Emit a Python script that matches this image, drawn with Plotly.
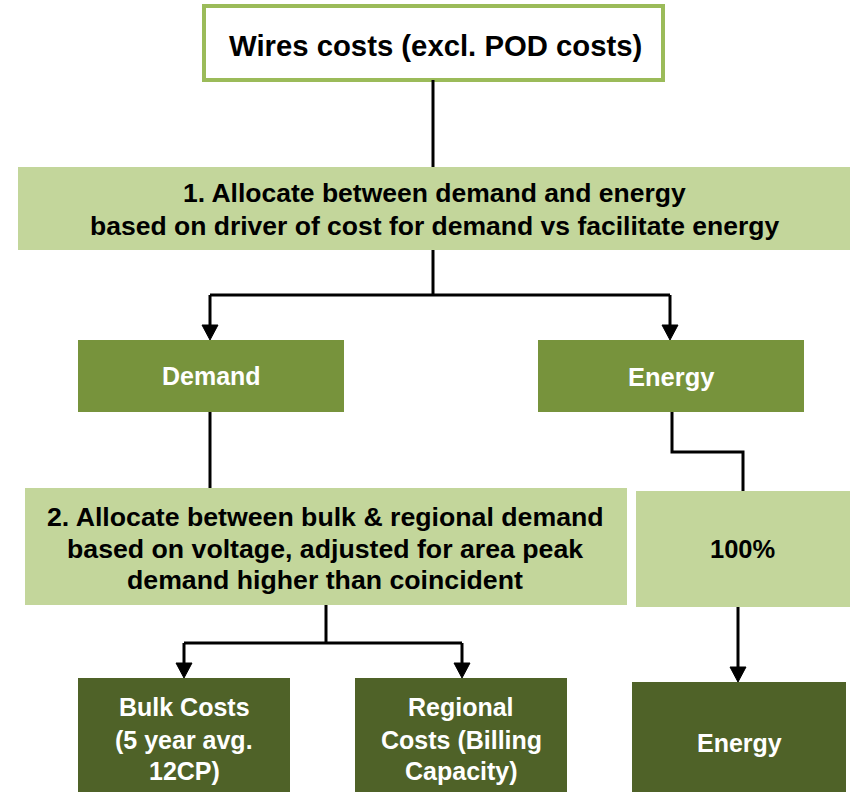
import plotly.graph_objects as go

# ---- content (text of each node, one list per line) ----
title_lines = ["Wires costs (excl. POD costs)"]
step1_lines = ["1. Allocate between demand and energy",
               "based on driver of cost for demand vs facilitate energy"]
demand_lines = ["Demand"]
energy_lines = ["Energy"]
step2_lines = ["2. Allocate between bulk & regional demand",
               "based on voltage, adjusted for area peak",
               "demand higher than coincident"]
share_lines = ["100%"]
bulk_lines = ["Bulk Costs", "(5 year avg.", "12CP)"]
regional_lines = ["Regional", "Costs (Billing", "Capacity)"]
energy_out_lines = ["Energy"]

# ---- styles ----
W, H = 855, 792
BORDER = "#9BBB59"
LIGHT = "#C3D69B"
MID = "#77933C"
DARK = "#4F6228"
FONT = "Liberation Sans, Arial, sans-serif"

# ---- layout geometry ----
boxes = {
    "title":   dict(rect=(204, 6, 663, 80), fill="white", line=BORDER, lw=4),
    "step1":   dict(rect=(18, 167, 850, 250), fill=LIGHT),
    "demand":  dict(rect=(78, 340, 344, 412), fill=MID),
    "energy":  dict(rect=(538, 340, 804, 412), fill=MID),
    "step2":   dict(rect=(25, 488, 627, 605), fill=LIGHT),
    "share":   dict(rect=(636, 491, 850, 607), fill=LIGHT),
    "bulk":    dict(rect=(78, 678, 290, 800), fill=DARK),
    "regional": dict(rect=(355, 678, 567, 800), fill=DARK),
    "energy_out": dict(rect=(632, 682, 846, 800), fill=DARK),
}

texts = [
    (title_lines, 435, [45], 29.3, "black"),
    (step1_lines, 434, [193, 226], 26.5, "black"),
    (demand_lines, 211, [376], 25, "white"),
    (energy_lines, 671, [377], 25.5, "white"),
    (step2_lines, 325, [517, 549, 580], 26.7, "black"),
    (share_lines, 742, [549], 25.5, "black"),
    (bulk_lines, 184, [707, 740, 771], 25, "white"),
    (regional_lines, 461, [707, 740, 771], 25, "white"),
    (energy_out_lines, 739, [743], 25, "white"),
]

plain_paths = [
    [(433, 80), (433, 167)],
    [(433, 250), (433, 295)],
    [(210, 295), (670, 295)],
    [(210, 412), (210, 488)],
    [(672, 412), (672, 452), (743, 452), (743, 491)],
    [(326, 605), (326, 643)],
    [(184, 643), (462, 643)],
]
arrow_paths = [
    [(210, 295), (210, 340)],
    [(670, 295), (670, 340)],
    [(184, 643), (184, 678)],
    [(462, 643), (462, 678)],
    [(738, 607), (738, 682)],
]

fig = go.Figure()
shapes = []
annotations = []

for b in boxes.values():
    x0, y0, x1, y1 = b["rect"]
    shapes.append(dict(type="rect", xref="x", yref="y", x0=x0, y0=y0, x1=x1, y1=y1,
                       fillcolor=b["fill"],
                       line=dict(color=b.get("line", b["fill"]), width=b.get("lw", 0)),
                       layer="below"))

def path_str(pts):
    return "M " + " L ".join(f"{x},{y}" for x, y in pts)

for p in plain_paths:
    shapes.append(dict(type="path", path=path_str(p), xref="x", yref="y",
                       line=dict(color="black", width=3)))

AH, AW = 15, 8
for p in arrow_paths:
    (xb, yb) = p[-1]
    pts = p[:-1] + [(xb, yb - AH + 2)]
    shapes.append(dict(type="path", path=path_str(pts), xref="x", yref="y",
                       line=dict(color="black", width=3)))
    tri = f"M {xb - AW},{yb - AH} L {xb + AW},{yb - AH} L {xb},{yb} Z"
    shapes.append(dict(type="path", path=tri, xref="x", yref="y",
                       fillcolor="black", line=dict(color="black", width=1)))

for lines, cx, ys, size, color in texts:
    for line, y in zip(lines, ys):
        annotations.append(dict(x=cx, y=y, xref="x", yref="y", text=f"<b>{line}</b>",
                                showarrow=False, xanchor="center", yanchor="middle",
                                font=dict(family=FONT, size=size, color=color)))

fig.update_layout(
    width=W, height=H,
    margin=dict(l=0, r=0, t=0, b=0),
    paper_bgcolor="white", plot_bgcolor="white",
    xaxis=dict(range=[0, W], visible=False, fixedrange=True),
    yaxis=dict(range=[H, 0], visible=False, fixedrange=True),
    shapes=shapes, annotations=annotations, showlegend=False,
)

fig.write_html("out.html", config={"displayModeBar": False},
               post_script="document.body.style.margin='0';document.body.style.overflow='hidden';")
